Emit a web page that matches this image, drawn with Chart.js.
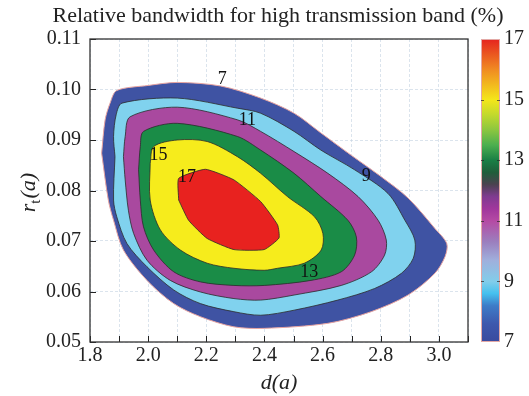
<!DOCTYPE html>
<html>
<head>
<meta charset="utf-8">
<script src="https://cdn.jsdelivr.net/npm/chart.js@4.4.1/dist/chart.umd.min.js"></script>
<style>
    html, body { margin: 0; padding: 0; background: #fff; }
    #wrap { width: 529px; height: 396px; position: relative; }
</style>
</head>
<body>
<div id="wrap"><canvas id="bandChart"></canvas></div>
<script>
// contour boundaries (d(a), r_t(a))
const c7x = [1.840, 1.852, 1.869, 1.892, 2.000, 2.100, 2.249, 2.387, 2.502, 2.594, 2.698, 2.802, 2.894, 2.986, 3.027, 3.021, 2.986, 2.894, 2.767, 2.618, 2.399, 2.295, 2.180, 2.088, 1.996, 1.915, 1.881, 1.863, 1.840];
const c7y = [0.0874, 0.0940, 0.0973, 0.0998, 0.1008, 0.1014, 0.1007, 0.0983, 0.0953, 0.0914, 0.0870, 0.0827, 0.0785, 0.0725, 0.0695, 0.0669, 0.0636, 0.0593, 0.0560, 0.0537, 0.0527, 0.0530, 0.0550, 0.0576, 0.0622, 0.0682, 0.0741, 0.0781, 0.0874];

const c9x = [1.886, 1.881, 1.890, 1.910, 2.100, 2.307, 2.387, 2.502, 2.594, 2.710, 2.825, 2.883, 2.917, 2.912, 2.871, 2.779, 2.652, 2.502, 2.387, 2.295, 2.180, 2.088, 1.996, 1.927, 1.892, 1.881, 1.886];
const c9y = [0.0867, 0.0907, 0.0950, 0.0973, 0.0983, 0.0963, 0.0953, 0.0917, 0.0880, 0.0841, 0.0794, 0.0741, 0.0702, 0.0666, 0.0636, 0.0606, 0.0583, 0.0563, 0.0553, 0.0560, 0.0576, 0.0603, 0.0649, 0.0695, 0.0748, 0.0781, 0.0867];

const c11x = [1.915, 1.921, 1.938, 2.100, 2.307, 2.387, 2.502, 2.618, 2.722, 2.791, 2.819, 2.813, 2.768, 2.664, 2.502, 2.387, 2.295, 2.180, 2.076, 1.996, 1.950, 1.932, 1.921, 1.915];
const c11y = [0.0867, 0.0907, 0.0946, 0.0965, 0.0940, 0.0917, 0.0877, 0.0834, 0.0788, 0.0741, 0.0702, 0.0672, 0.0639, 0.0612, 0.0593, 0.0583, 0.0586, 0.0599, 0.0622, 0.0662, 0.0715, 0.0761, 0.0821, 0.0867];

const c13x = [1.967, 1.973, 1.984, 2.100, 2.307, 2.387, 2.502, 2.594, 2.687, 2.716, 2.710, 2.664, 2.560, 2.399, 2.295, 2.180, 2.088, 2.019, 1.984, 1.973, 1.967];
const c13y = [0.0841, 0.0887, 0.0917, 0.0933, 0.0907, 0.0880, 0.0834, 0.0788, 0.0741, 0.0708, 0.0672, 0.0639, 0.0622, 0.0612, 0.0612, 0.0619, 0.0639, 0.0682, 0.0728, 0.0781, 0.0841];

const c15x = [2.007, 2.019, 2.100, 2.203, 2.307, 2.387, 2.479, 2.572, 2.601, 2.595, 2.537, 2.445, 2.399, 2.295, 2.203, 2.111, 2.042, 2.007, 2.007];
const c15y = [0.0854, 0.0887, 0.0900, 0.0897, 0.0867, 0.0834, 0.0788, 0.0748, 0.0715, 0.0682, 0.0656, 0.0646, 0.0642, 0.0646, 0.0656, 0.0682, 0.0722, 0.0781, 0.0854];

const c17x = [2.105, 2.105, 2.197, 2.295, 2.387, 2.445, 2.450, 2.399, 2.295, 2.203, 2.139, 2.105];
const c17y = [0.0781, 0.0824, 0.0842, 0.0821, 0.0778, 0.0732, 0.0706, 0.0683, 0.0683, 0.0705, 0.0741, 0.0781];

const levels = [7, 9, 11, 13, 15, 17];
const bandColors = ['#3f53a3', '#80d2ee', '#a9499f', '#1a8c47', '#f6ec1c', '#e8221f'];

// inline contour labels
const labelText = ['7', '9', '11', '13', '15', '17'];
const labelX = [2.255, 2.750, 2.341, 2.554, 2.036, 2.134];
const labelY = [0.1021, 0.0829, 0.0940, 0.0639, 0.0870, 0.0826];

// colorbar
const cbValues = [7, 7.6, 8.2, 8.6, 9, 9.7, 10.3, 11, 11.4, 11.8, 12.2, 12.6, 13, 13.5, 14, 14.5, 15, 16, 17];
const cbColors = ['#3a4a9e', '#3d58ad', '#3e7cc8', '#45c0ee', '#82cdea', '#a0afdc', '#9b7fbe', '#b54aa4', '#a0379c', '#7f3b90', '#4b4250', '#1f5e3a', '#1a7f45', '#4caf4f', '#8cc63f', '#c2d92c', '#f4e61a', '#f08a22', '#e5241f'];
const cbTicks = [7, 9, 11, 13, 15, 17];

const serif = "'Liberation Serif', 'DejaVu Serif', serif";
const titleText = 'Relative bandwidth for high transmission band (%)';

function toPoints(xs, ys) {
    return xs.map((x, i) => ({ x: x, y: ys[i] }));
}

const contours = [
    toPoints(c7x, c7y), toPoints(c9x, c9y), toPoints(c11x, c11y),
    toPoints(c13x, c13y), toPoints(c15x, c15y), toPoints(c17x, c17y)
];

const datasets = contours.map((pts, i) => ({
    label: String(levels[i]),
    data: pts,
    showLine: true,
    fill: false,
    pointRadius: 0,
    tension: i === 5 ? 0.15 : 0.3,
    borderWidth: i === 0 ? 1 : 0.8,
    borderColor: i === 0 ? '#e7a3a0' : '#2b2b2b',
    fillColor: bandColors[i]
}));

// fill each closed contour (outer first) using the line's own path
const contourFill = {
    id: 'contourFill',
    beforeDatasetsDraw(chart) {
        const ctx = chart.ctx;
        ctx.save();
        chart.data.datasets.forEach((ds, i) => {
            const line = chart.getDatasetMeta(i).dataset;
            if (!line) return;
            line.updateControlPoints(chart.chartArea, 'x');
            ctx.beginPath();
            line.path(ctx);
            ctx.closePath();
            ctx.fillStyle = ds.fillColor;
            ctx.fill();
        });
        ctx.restore();
    }
};

const decorations = {
    id: 'decorations',
    afterDatasetsDraw(chart) {
        const ctx = chart.ctx;
        const xs = chart.scales.x, ys = chart.scales.y;
        const area = chart.chartArea;
        ctx.save();
        // contour labels
        ctx.fillStyle = '#111';
        ctx.font = '18px ' + serif;
        ctx.textAlign = 'center';
        ctx.textBaseline = 'middle';
        labelText.forEach((t, i) => {
            ctx.fillText(t, xs.getPixelForValue(labelX[i]), ys.getPixelForValue(labelY[i]));
        });
        // inward ticks
        ctx.strokeStyle = '#222';
        ctx.lineWidth = 1;
        ctx.beginPath();
        xs.ticks.forEach(t => {
            const px = Math.round(xs.getPixelForValue(t.value)) + 0.5;
            ctx.moveTo(px, area.bottom);
            ctx.lineTo(px, area.bottom - 6);
        });
        ys.ticks.forEach(t => {
            const py = Math.round(ys.getPixelForValue(t.value)) + 0.5;
            ctx.moveTo(area.left, py);
            ctx.lineTo(area.left + 6, py);
        });
        ctx.stroke();
        // frame
        ctx.strokeStyle = '#333';
        ctx.lineWidth = 1.3;
        ctx.strokeRect(area.left, area.top, area.right - area.left, area.bottom - area.top);
        ctx.restore();
    },
    afterDraw(chart) {
        const ctx = chart.ctx;
        const cb = chart.scales.cb;
        const area = chart.chartArea;
        ctx.save();
        // title
        ctx.fillStyle = '#222';
        ctx.font = '22px ' + serif;
        ctx.textAlign = 'center';
        ctx.textBaseline = 'middle';
        ctx.fillText(titleText, 278, 16);
        // colorbar
        const x0 = 481, w = 19;
        const yTop = cb.getPixelForValue(17), yBot = cb.getPixelForValue(7);
        const grad = ctx.createLinearGradient(0, yBot, 0, yTop);
        cbValues.forEach((v, i) => grad.addColorStop((v - 7) / 10, cbColors[i]));
        ctx.fillStyle = grad;
        ctx.fillRect(x0, yTop, w, yBot - yTop);
        ctx.strokeStyle = '#e3a9a6';
        ctx.lineWidth = 1;
        ctx.strokeRect(x0 + 0.5, yTop + 0.5, w - 1, yBot - yTop - 1);
        ctx.strokeStyle = 'rgba(40,40,40,0.7)';
        ctx.beginPath();
        cbTicks.slice(1, -1).forEach(v => {
            const py = Math.round(cb.getPixelForValue(v)) + 0.5;
            ctx.moveTo(x0, py); ctx.lineTo(x0 + 3, py);
            ctx.moveTo(x0 + w - 3, py); ctx.lineTo(x0 + w, py);
        });
        ctx.stroke();
        // y axis title r_t(a)
        ctx.translate(28, (area.top + area.bottom) / 2 + 2);
        ctx.rotate(-Math.PI / 2);
        ctx.fillStyle = '#222';
        ctx.textAlign = 'left';
        ctx.textBaseline = 'alphabetic';
        const fMain = 'italic 22px ' + serif, fSub = '15px ' + serif;
        ctx.font = fMain; const wr = ctx.measureText('r').width; const wa = ctx.measureText('(a)').width;
        ctx.font = fSub; const wt = ctx.measureText('t').width;
        let cx = -(wr + wt + wa + 1) / 2;
        const base = 7;
        ctx.font = fMain; ctx.fillText('r', cx, base); cx += wr;
        ctx.font = fSub; ctx.fillText('t', cx, base + 5); cx += wt + 1;
        ctx.font = fMain; ctx.fillText('(a)', cx, base);
        ctx.restore();
    }
};

const ctx = document.getElementById('bandChart').getContext('2d');
new Chart(ctx, {
    type: 'scatter',
    data: { datasets: datasets },
    options: {
        responsive: true,
        maintainAspectRatio: false,
        animation: false,
        layout: { padding: { top: 39, left: 0, right: 0, bottom: 0 } },
        plugins: {
            legend: { display: false },
            tooltip: { enabled: false },
            title: { display: false }
        },
        scales: {
            x: {
                type: 'linear',
                min: 1.8,
                max: 3.1,
                afterFit: s => { s.height = 54; },
                ticks: {
                    stepSize: 0.1,
                    autoSkip: false,
                    maxRotation: 0,
                    padding: 2,
                    color: '#222',
                    font: { family: serif, size: 20 },
                    callback: v => (Math.round(v * 10) % 2 === 0 ? v.toFixed(1) : '')
                },
                grid: { color: 'rgba(195,210,225,0.6)', drawTicks: false },
                border: { display: false, dash: [3, 2] },
                title: {
                    display: true,
                    text: 'd(a)',
                    color: '#222',
                    font: { family: serif, size: 22, style: 'italic' },
                    padding: { top: 0, bottom: 0 }
                }
            },
            y: {
                type: 'linear',
                min: 0.05,
                max: 0.11,
                afterFit: s => { s.width = 90; },
                ticks: {
                    stepSize: 0.01,
                    padding: 9,
                    color: '#222',
                    font: { family: serif, size: 20 },
                    callback: v => v.toFixed(2)
                },
                grid: { color: 'rgba(195,210,225,0.6)', drawTicks: false },
                border: { display: false, dash: [3, 2] }
            },
            cb: {
                type: 'linear',
                position: 'right',
                min: 7,
                max: 17,
                afterFit: s => { s.width = 61; },
                ticks: {
                    stepSize: 2,
                    padding: 4,
                    color: '#222',
                    font: { family: serif, size: 20 }
                },
                // invisible long ticks push the labels past the colour bar
                grid: { drawOnChartArea: false, drawTicks: true, tickLength: 32, tickColor: 'rgba(0,0,0,0)' },
                border: { display: false }
            }
        }
    },
    plugins: [contourFill, decorations]
});
</script>
</body>
</html>
